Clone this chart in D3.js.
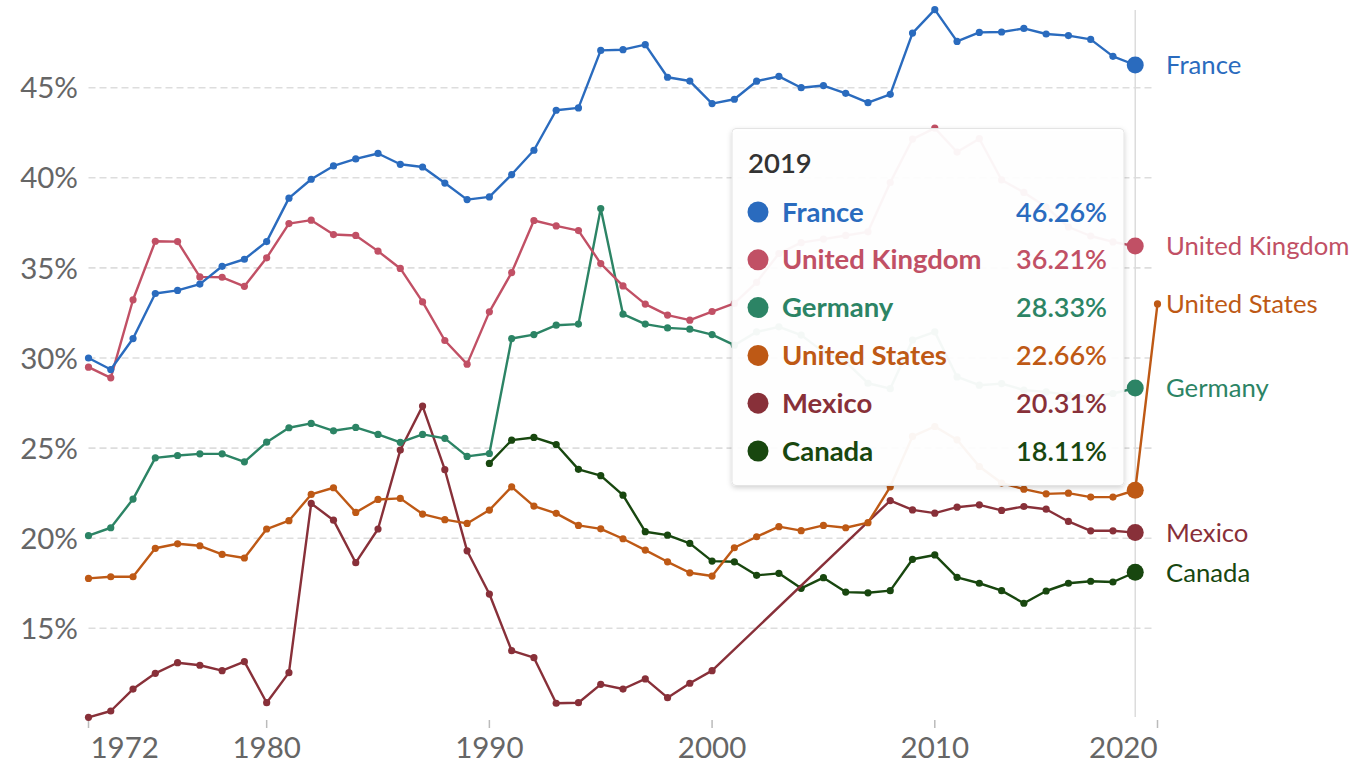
<!DOCTYPE html>
<html>
<head>
<meta charset="utf-8">
<script src="https://cdn.jsdelivr.net/npm/d3@7"></script>
<style>
  html, body { margin: 0; padding: 0; background: #fff; }
  svg { display: block; font-family: Lato, "Noto Sans", sans-serif; }
</style>
</head>
<body>
<svg id="chart" width="1356" height="764"></svg>
<script>
// Chart data (share in %)
const years = [1972, 1973, 1974, 1975, 1976, 1977, 1978, 1979, 1980, 1981,
               1982, 1983, 1984, 1985, 1986, 1987, 1988, 1989, 1990, 1991,
               1992, 1993, 1994, 1995, 1996, 1997, 1998, 1999, 2000, 2001,
               2002, 2003, 2004, 2005, 2006, 2007, 2008, 2009, 2010, 2011,
               2012, 2013, 2014, 2015, 2016, 2017, 2018, 2019, 2020];

const france = [30.0, 29.36, 31.08, 33.58, 33.75, 34.1, 35.09, 35.48, 36.46, 38.87,
                39.92, 40.66, 41.05, 41.35, 40.75, 40.6, 39.71, 38.79, 38.94, 40.18,
                41.53, 43.75, 43.88, 47.07, 47.11, 47.39, 45.58, 45.37, 44.12, 44.36,
                45.36, 45.63, 45.0, 45.12, 44.69, 44.17, 44.63, 48.03, 49.33, 47.57,
                48.07, 48.09, 48.29, 47.98, 47.89, 47.68, 46.74, 46.26, null];

const unitedKingdom = [29.49, 28.9, 33.23, 36.48, 36.46, 34.5, 34.48, 33.98, 35.56, 37.46,
                       37.65, 36.85, 36.8, 35.93, 34.97, 33.11, 30.97, 29.66, 32.56, 34.74,
                       37.63, 37.33, 37.07, 35.24, 34.0, 32.99, 32.38, 32.1, 32.58, 33.03,
                       34.2, 35.8, 36.4, 36.6, 36.8, 37.0, 39.74, 42.15, 42.76, 41.43,
                       42.17, 39.88, 39.19, 38.38, 37.27, 36.77, 36.44, 36.21, null];

const germany = [20.14, 20.58, 22.17, 24.46, 24.59, 24.68, 24.68, 24.24, 25.33, 26.13,
                 26.37, 25.96, 26.15, 25.76, 25.32, 25.76, 25.54, 24.54, 24.7, 31.08,
                 31.3, 31.82, 31.88, 38.29, 32.43, 31.88, 31.67, 31.6, 31.3, 30.71,
                 31.45, 31.73, 31.27, 30.34, 29.79, 28.6, 28.3, 31.0, 31.45, 28.95,
                 28.49, 28.58, 28.22, 28.12, 27.94, 27.85, 28.03, 28.33, null];

const unitedStates = [17.77, 17.86, 17.86, 19.44, 19.69, 19.58, 19.1, 18.9, 20.51, 20.97,
                      22.43, 22.8, 21.43, 22.15, 22.21, 21.34, 21.03, 20.82, 21.56, 22.85,
                      21.78, 21.38, 20.71, 20.52, 19.97, 19.34, 18.69, 18.08, 17.9, 19.47,
                      20.08, 20.64, 20.42, 20.71, 20.58, 20.86, 22.85, 25.65, 26.2, 25.46,
                      23.98, 23.06, 22.72, 22.46, 22.5, 22.28, 22.28, 22.66, 33.0];

const mexico = [10.06, 10.41, 11.63, 12.5, 13.09, 12.95, 12.65, 13.15, 10.87, 12.54,
                21.93, 21.0, 18.64, 20.51, 24.89, 27.33, 23.8, 19.3, 16.9, 13.76,
                13.37, 10.84, 10.87, 11.89, 11.63, 12.19, 11.15, 11.95, 12.65, null,
                null, null, null, null, null, null, 22.09, 21.57, 21.39, 21.72,
                21.85, 21.54, 21.76, 21.61, 20.93, 20.41, 20.41, 20.31, null];

const canada = [null, null, null, null, null, null, null, null, null, null,
                null, null, null, null, null, null, null, null, 24.15, 25.44,
                25.59, 25.2, 23.82, 23.47, 22.39, 20.36, 20.17, 19.71, 18.73, 18.69,
                17.94, 18.05, 17.22, 17.81, 17.01, 16.97, 17.09, 18.83, 19.07, 17.83,
                17.5, 17.09, 16.39, 17.07, 17.5, 17.61, 17.57, 18.11, null];

const countryNames = ['France', 'United Kingdom', 'Germany', 'United States', 'Mexico', 'Canada'];
const countryValues = [france, unitedKingdom, germany, unitedStates, mexico, canada];
const countryColors = ['#2a6bbe', '#c15065', '#2c8465', '#be5915', '#883039', '#18470f'];

const yTicks = [15, 20, 25, 30, 35, 40, 45];
const xTicks = [1972, 1980, 1990, 2000, 2010, 2020];
const hoverYear = 2019;

// Build series
const series = countryNames.map((name, i) => ({
    name: name,
    color: countryColors[i],
    points: years.map((year, j) => ({ year: year, value: countryValues[i][j] }))
        .filter(d => d.value !== null)
}));

const svg = d3.select('#chart');

const x = d3.scaleLinear().domain([1972, 2020]).range([88.5, 1157.5]);
const y = d3.scaleLinear().domain([15, 45]).range([628.3, 87.7]);

// Grid lines
svg.append('g')
    .selectAll('line')
    .data(yTicks)
    .join('line')
    .attr('x1', x(1972))
    .attr('x2', x(2020) - 4)
    .attr('y1', d => y(d))
    .attr('y2', d => y(d))
    .attr('stroke', '#dddddd')
    .attr('stroke-width', 1.6)
    .attr('stroke-dasharray', '7,4');

// Y axis labels
svg.append('g')
    .selectAll('text')
    .data(yTicks)
    .join('text')
    .attr('x', 78)
    .attr('y', d => y(d))
    .attr('dy', '0.36em')
    .attr('text-anchor', 'end')
    .attr('font-size', 29.5)
    .attr('fill', '#666')
    .text(d => d + '%');

// X axis ticks + labels
const xAxis = svg.append('g');
xAxis.selectAll('line')
    .data(xTicks)
    .join('line')
    .attr('x1', d => x(d))
    .attr('x2', d => x(d))
    .attr('y1', 720)
    .attr('y2', 728)
    .attr('stroke', '#bbb')
    .attr('stroke-width', 1.5);

xAxis.selectAll('text')
    .data(xTicks)
    .join('text')
    .attr('x', (d, i) => i === 0 ? x(d) + 2 : x(d))
    .attr('y', 758)
    .attr('text-anchor', (d, i) => i === 0 ? 'start' : (i === xTicks.length - 1 ? 'end' : 'middle'))
    .attr('font-size', 29.5)
    .attr('fill', '#666')
    .text(d => d);

// Hover line
svg.append('line')
    .attr('x1', x(hoverYear))
    .attr('x2', x(hoverYear))
    .attr('y1', 10)
    .attr('y2', 717)
    .attr('stroke', '#dcdcdc')
    .attr('stroke-width', 1.5);

// Lines and markers
const line = d3.line()
    .x(d => x(d.year))
    .y(d => y(d.value));

const seriesG = svg.append('g')
    .selectAll('g')
    .data(series.slice().reverse())
    .join('g');

seriesG.append('path')
    .attr('d', d => line(d.points))
    .attr('fill', 'none')
    .attr('stroke', d => d.color)
    .attr('stroke-width', 2.4)
    .attr('stroke-linejoin', 'round');

seriesG.each(function(s) {
    d3.select(this).selectAll('circle')
        .data(s.points)
        .join('circle')
        .attr('cx', d => x(d.year))
        .attr('cy', d => y(d.value))
        .attr('r', d => d.year === hoverYear ? 8.5 : 3.6)
        .attr('fill', s.color);
});

// End labels
svg.append('g')
    .selectAll('text')
    .data(series)
    .join('text')
    .attr('x', 1166)
    .attr('y', d => y(d.points[d.points.length - 1].value))
    .attr('dy', '0.36em')
    .attr('font-size', 25.7)
    .attr('fill', d => d.color)
    .text(d => d.name);

// Tooltip
const defs = svg.append('defs');
const shadow = defs.append('filter')
    .attr('id', 'shadow')
    .attr('x', '-10%').attr('y', '-10%')
    .attr('width', '120%').attr('height', '120%');
shadow.append('feDropShadow')
    .attr('dx', 0).attr('dy', 2)
    .attr('stdDeviation', 2.5)
    .attr('flood-color', '#000')
    .attr('flood-opacity', 0.18);

const tip = svg.append('g');
tip.append('rect')
    .attr('x', 732)
    .attr('y', 128.5)
    .attr('width', 392)
    .attr('height', 357)
    .attr('rx', 4)
    .attr('fill', 'rgba(255,255,255,0.94)')
    .attr('stroke', '#e4e4e4')
    .attr('filter', 'url(#shadow)');

tip.append('text')
    .attr('x', 748)
    .attr('y', 173)
    .attr('font-size', 27.5)
    .attr('font-weight', 600)
    .attr('fill', '#333')
    .text(hoverYear);

const rowY = i => 221.5 + i * 47.8;
const rows = tip.selectAll('g.row')
    .data(series)
    .join('g')
    .attr('class', 'row');

rows.append('circle')
    .attr('cx', 758)
    .attr('cy', (d, i) => rowY(i) - 9.5)
    .attr('r', 10.5)
    .attr('fill', d => d.color);

rows.append('text')
    .attr('x', 782)
    .attr('y', (d, i) => rowY(i))
    .attr('font-size', 27.5)
    .attr('font-weight', 700)
    .attr('fill', d => d.color)
    .text(d => d.name);

rows.append('text')
    .attr('x', 1107)
    .attr('y', (d, i) => rowY(i))
    .attr('text-anchor', 'end')
    .attr('font-size', 27)
    .attr('font-weight', 600)
    .attr('fill', d => d.color)
    .text(d => d.points.find(p => p.year === hoverYear).value.toFixed(2) + '%');
</script>
</body>
</html>
